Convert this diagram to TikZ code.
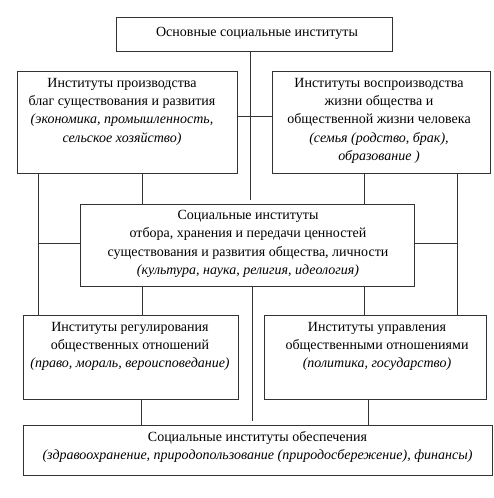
\documentclass[tikz,border=0pt]{standalone}
\usepackage{fontspec}
\setmainfont{Liberation Serif}
\begin{document}
\begin{tikzpicture}[x=1pt,y=-1pt,
  box/.style={draw=black!80,line width=1pt,inner sep=0pt,outer sep=0pt},
  txt/.style={align=center,inner sep=0pt,font=\fontsize{14}{18.3}\selectfont},
  link/.style={draw=black!80,line width=1pt}]
\useasboundingbox[fill=white] (0,0) rectangle (494,498);
% x positions of the vertical connectors
\coordinate (xa) at (38,0);
\coordinate (xb) at (142,0);
\coordinate (xc) at (250,0);
\coordinate (xd) at (364,0);
\coordinate (xe) at (457,0);
\coordinate (xf) at (252,0);
\coordinate (xg) at (141,0);
\coordinate (xh) at (368,0);
% boxes
\node[box,minimum width=276pt,minimum height=34pt] (top) at (254,34) {};
\node[box,minimum width=220pt,minimum height=102pt] (L1) at (127,122) {};
\node[box,minimum width=218pt,minimum height=102pt] (R1) at (381,122) {};
\node[box,minimum width=334pt,minimum height=82pt] (C) at (247,245) {};
\node[box,minimum width=215pt,minimum height=84pt] (L2) at (130.5,357) {};
\node[box,minimum width=222pt,minimum height=84pt] (R2) at (375,357) {};
\node[box,minimum width=469pt,minimum height=50pt] (B) at (257.5,450) {};
% connectors
\draw[link] (top.south -| xc) -- ([yshift=4pt]C.north -| xc);
\draw[link] ([yshift=6pt]L1.east) -- ([yshift=6pt]L1.east -| R1.west);
\draw[link] (L1.south -| xb) -- (C.north -| xb);
\draw[link] (C.south -| xb) -- (L2.north -| xb);
\draw[link] (L1.south -| xa) -- (L2.north -| xa);
\draw[link] ([yshift=2pt]C.west) -- ([yshift=2pt]C.west -| xa);
\draw[link] (R1.south -| xd) -- (C.north -| xd);
\draw[link] (C.south -| xd) -- (R2.north -| xd);
\draw[link] (R1.south -| xe) -- (R2.north -| xe);
\draw[link] ([yshift=2pt]C.east) -- ([yshift=2pt]C.east -| xe);
\draw[link] (C.south -| xf) -- ([yshift=4pt]B.north -| xf);
\draw[link] (L2.south -| xg) -- (B.north -| xg);
\draw[link] (R2.south -| xh) -- (B.north -| xh);
% texts
\node[txt,anchor=north] (ttop) at (257,27) {Основные социальные институты};
\node[txt,anchor=north] (tL1) at (122,78) {Институты производства\\благ существования и развития\\\textit{(экономика, промышленность,}\\\textit{сельское хозяйство)}};
\node[txt,anchor=north] (tR1) at (379,78) {Институты воспроизводства\\жизни общества и\\общественной жизни человека\\\textit{(семья (родство, брак),}\\\textit{образование )}};
\node[txt,anchor=north] (tC) at (248,210) {Социальные институты\\отбора, хранения и передачи ценностей\\существования и развития общества, личности\\\textit{(культура, наука, религия, идеология)}};
\node[txt,anchor=north] (tL2) at (130,322) {Институты регулирования\\общественных отношений\\\textit{(право, мораль, вероисповедание)}};
\node[txt,anchor=north] (tR2) at (377,322) {Институты управления\\общественными отношениями\\\textit{(политика, государство)}};
\node[txt,anchor=north] (tB) at (257.5,431) {Социальные институты обеспечения\\\textit{(здравоохранение, природопользование (природосбережение), финансы)}};
\end{tikzpicture}
\end{document}
